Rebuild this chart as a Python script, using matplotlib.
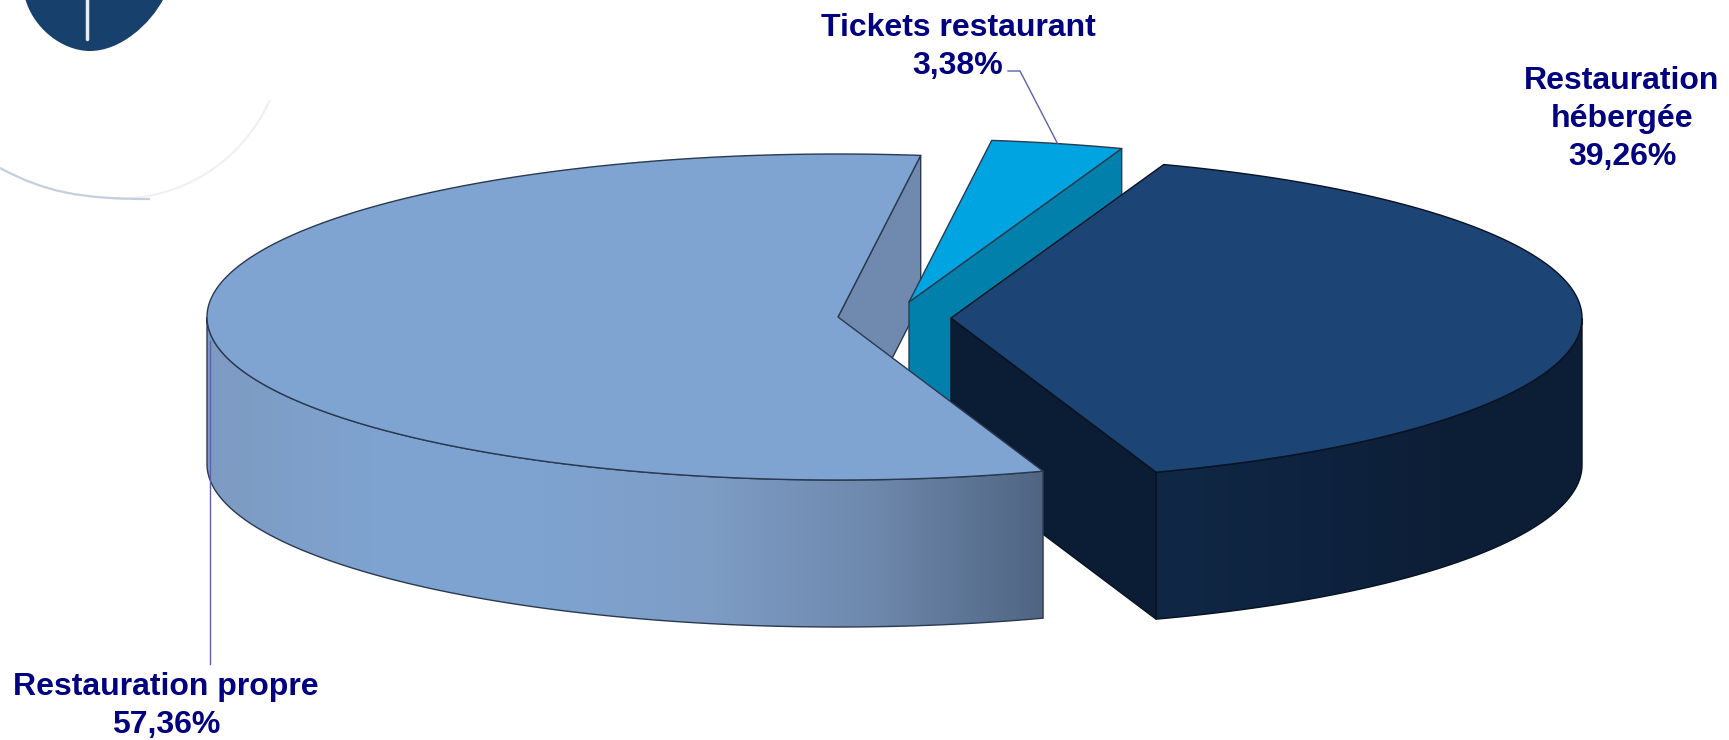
#!/usr/bin/env python

import numpy as np
import matplotlib
matplotlib.use('Agg')
import matplotlib.pyplot as plt
from matplotlib.colors import LinearSegmentedColormap
from matplotlib.patches import PathPatch, Polygon
from matplotlib.path import Path

plt.rcParams['font.family'] = ['Liberation Sans', 'DejaVu Sans']

# clockwise from the first slice, in percent
labels = ['Restauration\nhébergée', 'Restauration propre', 'Tickets restaurant']
values = [39.26, 57.36, 3.38]
value_labels = ['39,26%', '57,36%', '3,38%']

START = 70.3
A, B = 631, 163
DEPTH = 147
EDGE = '#2a3950'
DARK_EDGE = '#081222'
NAVY = '#000080'
LEADER = '#5f5fb0'


def arc(center, t1, t2, n=200, drop=0):
    t = np.radians(np.linspace(t1, t2, n))
    return np.column_stack([center[0] + A * np.cos(t), center[1] - B * np.sin(t) + drop])


def flat(ax, pts, color, z, edge=EDGE):
    ax.add_patch(Polygon(pts, closed=True, fc=color, ec=edge, lw=1, zorder=z, joinstyle='round'))


def shaded_side(ax, center, t1, t2, stops, z, edge=EDGE):
    # outer wall of a slice, horizontal gradient clipped to the wall
    top = arc(center, t1, t2)
    bottom = arc(center, t1, t2, drop=DEPTH)
    pts = np.vstack([top, bottom[::-1]])
    poly = Polygon(pts, closed=True, fc='none', ec=edge, lw=1, zorder=z + 0.1)
    ax.add_patch(poly)
    cmap = LinearSegmentedColormap.from_list('side', stops)
    x0, x1 = pts[:, 0].min(), pts[:, 0].max()
    y0, y1 = pts[:, 1].min(), pts[:, 1].max()
    im = ax.imshow(np.linspace(0, 1, 256).reshape(1, -1), cmap=cmap, aspect='auto',
                   extent=[x0, x1, y1, y0], zorder=z)
    im.set_clip_path(poly)


fig = plt.figure(figsize=(17.29, 7.4), dpi=100, facecolor='white')
ax = fig.add_axes([0, 0, 1, 1])

# slice angles come from the values
sweeps = [v * 3.6 for v in values]
a0 = START
a1 = a0 - sweeps[0]
a2 = a1 - sweeps[1]

c_hebergee = (951, 318)
c_propre = (838, 317)
c_tickets = (909, 302)

# logo corner
blob = Path([(25, -2), (33, 28), (62, 51), (90, 51), (120, 51), (150, 25), (164, -2)],
            [Path.MOVETO, Path.CURVE4, Path.CURVE4, Path.CURVE4, Path.CURVE4, Path.CURVE4, Path.CURVE4])
ax.add_patch(PathPatch(blob, fc='#17406d', ec='none', zorder=1))
ax.plot([87, 87], [0, 39], color='#e8eef5', lw=2.5, solid_capstyle='round', zorder=2)
swoosh = Path([(115, 199), (180, 199), (240, 165), (270, 100)],
              [Path.MOVETO, Path.CURVE4, Path.CURVE4, Path.CURVE4])
ax.add_patch(PathPatch(swoosh, fc='none', ec='#eef0f3', lw=1.5, zorder=1))
swoosh2 = Path([(0, 168), (45, 192), (80, 199), (150, 199)],
               [Path.MOVETO, Path.CURVE4, Path.CURVE4, Path.CURVE4])
ax.add_patch(PathPatch(swoosh2, fc='none', ec='#c5cedd', lw=1.6, zorder=1))

# cut face of the big slice, behind everything
p_top = arc(c_propre, a2, a2, n=1)[0]
apex = np.array(c_propre)
flat(ax, [apex, p_top, p_top + [0, DEPTH], apex + [0, DEPTH]], '#7089ae', 2)

# tickets slice
t_a = arc(c_tickets, a0, a0, n=1)[0]
apex = np.array(c_tickets)
flat(ax, [apex, t_a, t_a + [0, DEPTH], apex + [0, DEPTH]], '#0080aa', 3)
flat(ax, np.vstack([apex, arc(c_tickets, a2 + 360, a0)]), '#00a4e1', 4)

# hebergee slice
h_b = arc(c_hebergee, a1, a1, n=1)[0]
apex = np.array(c_hebergee)
shaded_side(ax, c_hebergee, a1, 0, ['#102846', '#0e2340', '#0d1f37', '#0c1e35'], 5, DARK_EDGE)
flat(ax, [apex, h_b, h_b + [0, DEPTH], apex + [0, DEPTH]], '#0b1c35', 6, DARK_EDGE)
flat(ax, np.vstack([apex, arc(c_hebergee, a1, a0)]), '#1c4474', 7, DARK_EDGE)

# propre slice
apex = np.array(c_propre)
shaded_side(ax, c_propre, -180, a1,
            ['#7d9bc2', '#7fa3d0', '#7fa3d0', '#7d9dc6', '#6e88ac', '#4f6582'], 8)
flat(ax, np.vstack([apex, arc(c_propre, a1, a2)]), '#80a4d1', 9)

# leaders, anchored on the middle of each slice
mid_t = a2 + 360 - sweeps[2] / 2
p = arc(c_tickets, mid_t, mid_t, n=1)[0]
ax.plot([1008, 1020, p[0]], [71, 71, p[1]], color=LEADER, lw=1, zorder=10)
mid_p = a1 - sweeps[1] / 2
p = arc(c_propre, mid_p, mid_p, n=1)[0]
ax.plot([p[0], p[0]], [p[1] + 8, 664], color=LEADER, lw=1, zorder=10)

# text
txt = dict(color=NAVY, fontsize=23, fontweight='bold', ha='center', va='center',
           linespacing=1.33, zorder=11)
ax.text(1622, 119, labels[0] + '\n' + value_labels[0], **txt)
ax.text(166, 706, labels[1] + '\n' + value_labels[1], **txt)
ax.text(958, 47, labels[2] + '\n' + value_labels[2], **txt)

ax.set_xlim(0, 1729)
ax.set_ylim(740, 0)
ax.axis('off')

fig.savefig('out.png', dpi=100, facecolor='white')
